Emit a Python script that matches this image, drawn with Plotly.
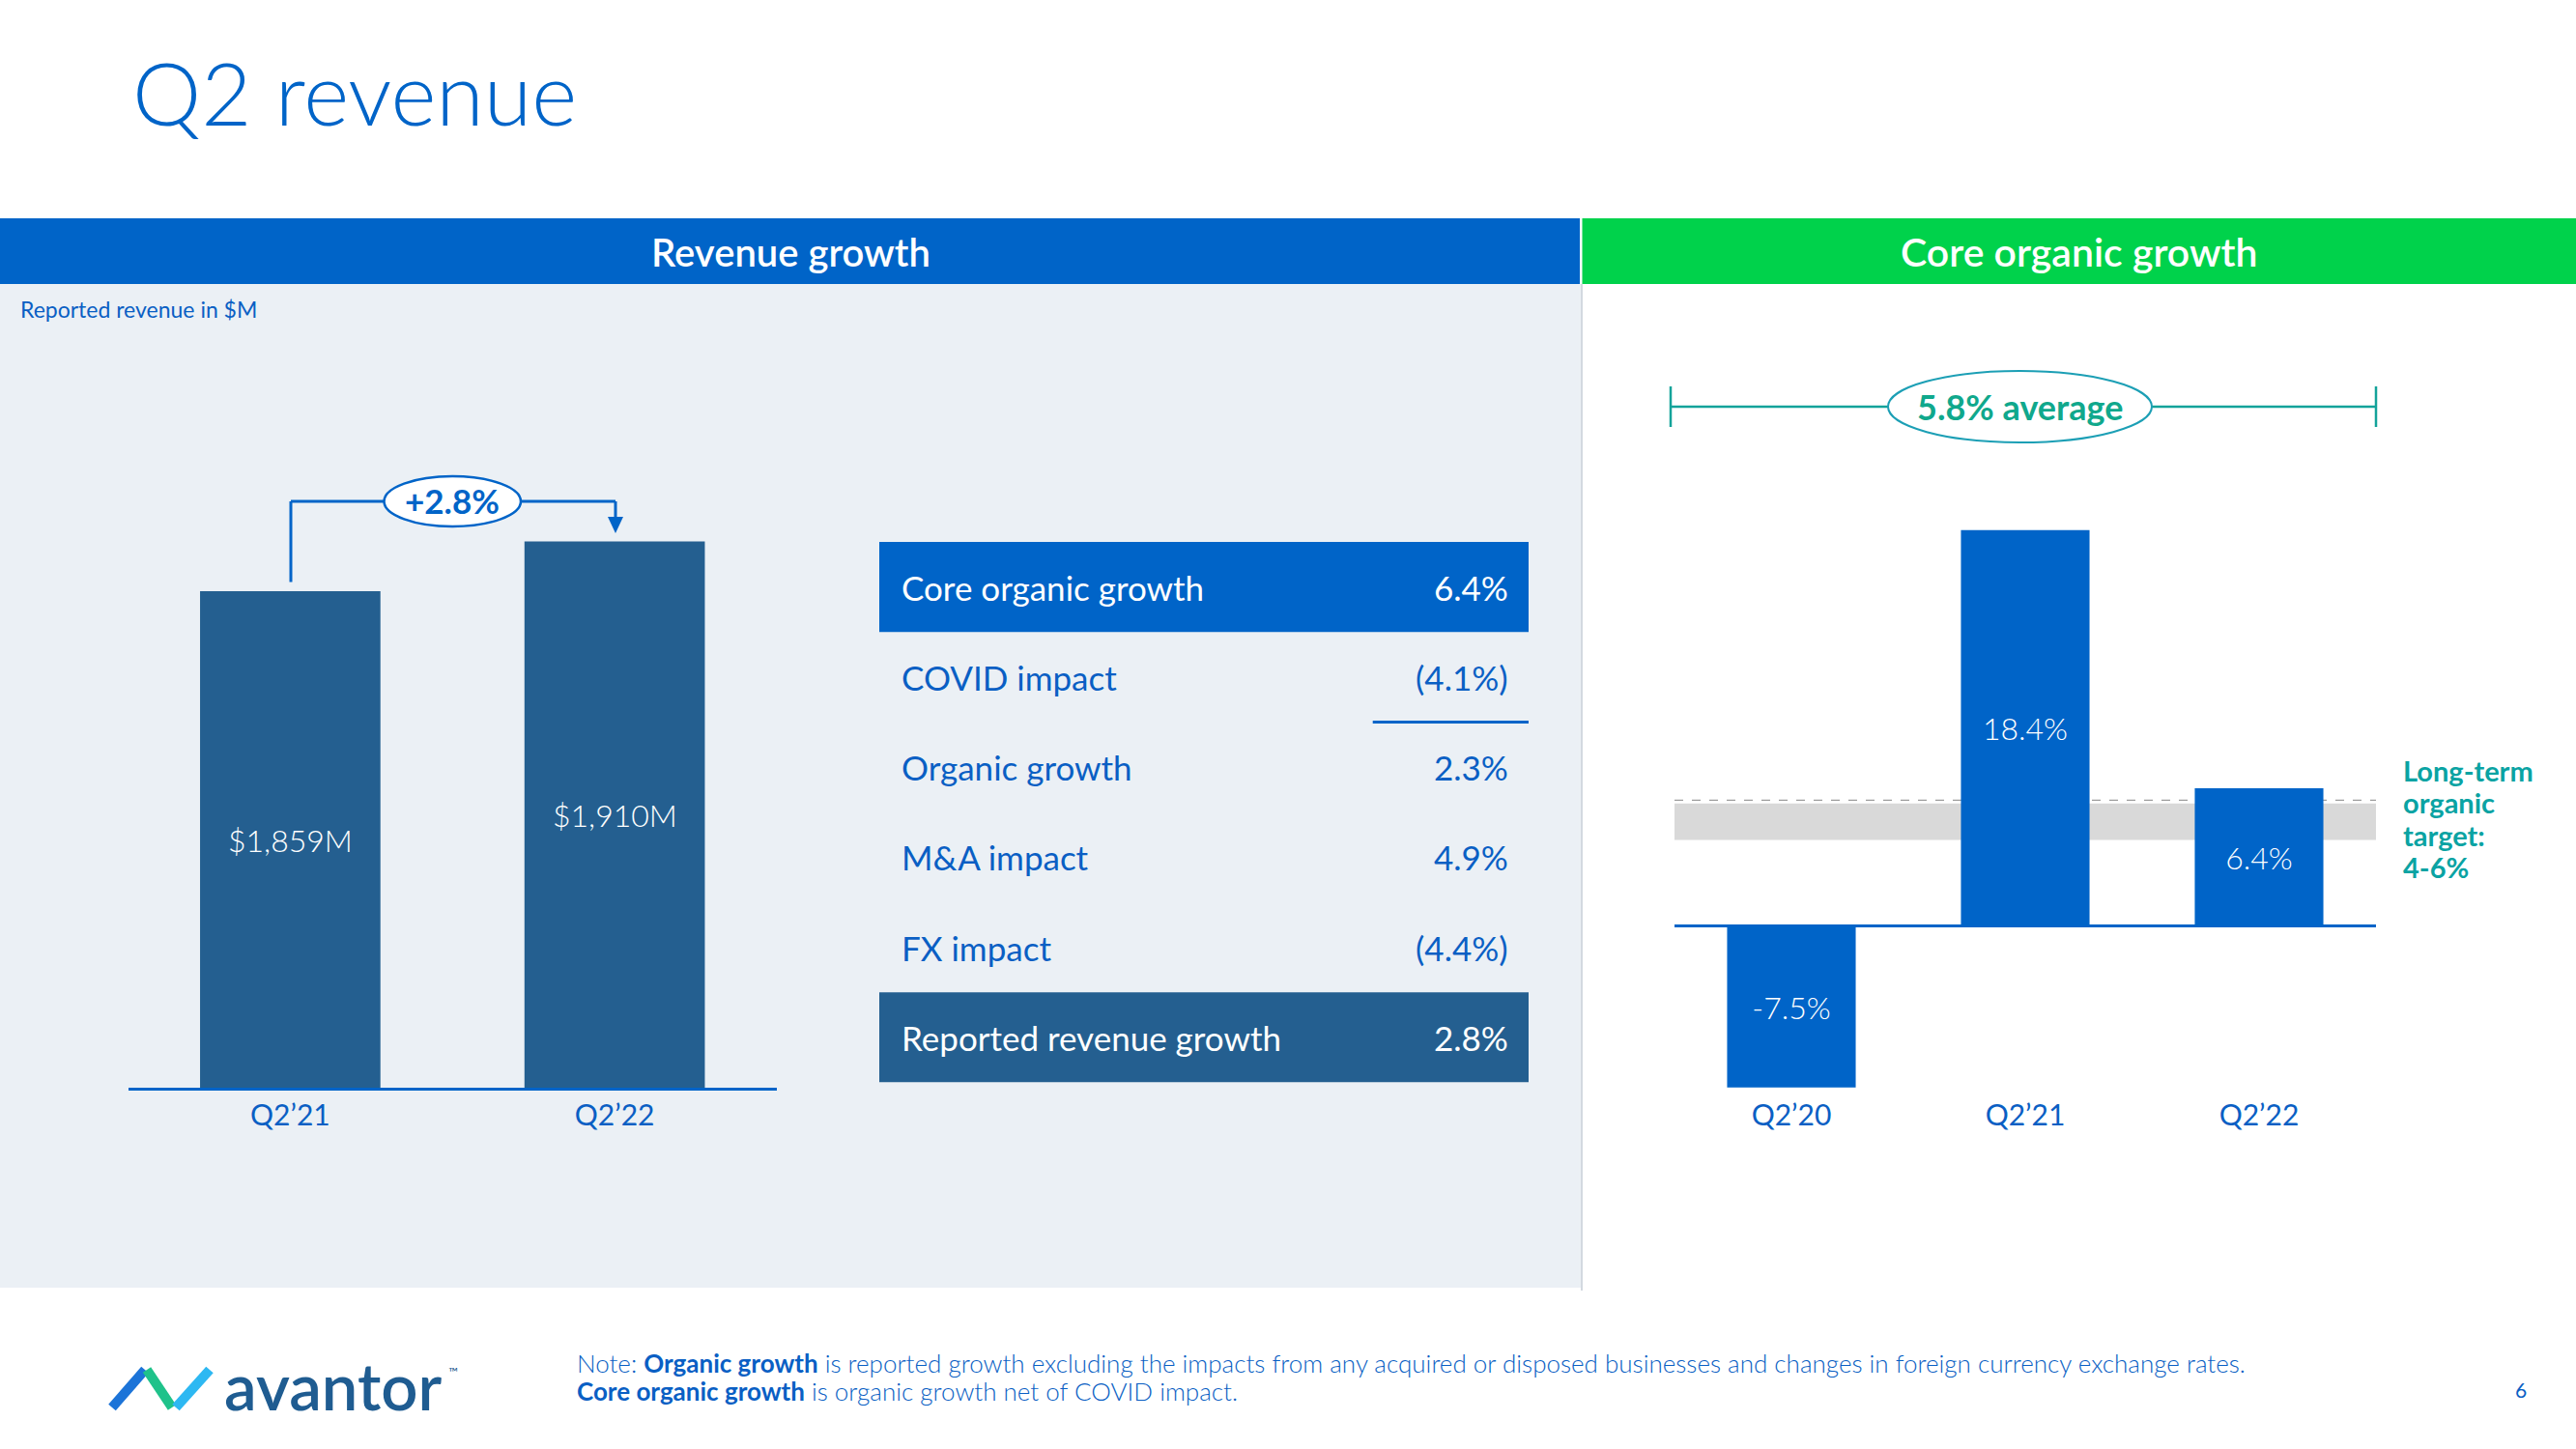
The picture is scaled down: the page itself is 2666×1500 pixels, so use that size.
import plotly.graph_objects as go

W, H = 2666, 1500

# ---------------- data ----------------
rev_quarters = ["Q2’21", "Q2’22"]
rev_values = [1859, 1910]
rev_value_labels = ["$1,859M", "$1,910M"]
rev_growth_label = "+2.8%"

bridge_items = ["Core organic growth", "COVID impact", "Organic growth",
                "M&A impact", "FX impact", "Reported revenue growth"]
bridge_values = ["6.4%", "(4.1%)", "2.3%", "4.9%", "(4.4%)", "2.8%"]

core_quarters = ["Q2’20", "Q2’21", "Q2’22"]
core_values = [-7.5, 18.4, 6.4]
core_average_label = "5.8% average"
target_band = [4.0, 5.7]
target_line = 5.85
target_text = ["Long-term", "organic", "target:", "4-6%"]

# ---------------- style ----------------
FONT = "Lato"
BLUE = "#0064C8"
DARK = "#245F90"
GREEN = "#00D24B"
PANEL = "#EBF0F5"
TEAL = "#13A39A"
TEXTBLUE = "#0A5FC4"


def X(px):
    return px / W


def Y(py):
    return 1 - py / H


fig = go.Figure()

# left: reported revenue bars (axis does not start at zero -> labels as annotations)
fig.add_trace(go.Bar(
    x=rev_quarters, y=rev_values, xaxis="x", yaxis="y",
    marker=dict(color=DARK, line=dict(width=0)), width=0.556,
    textposition="none", hoverinfo="skip", showlegend=False,
))

# right: core organic growth bars
fig.add_trace(go.Bar(
    x=core_quarters, y=core_values, xaxis="x2", yaxis="y2",
    marker=dict(color=BLUE, line=dict(width=0)), width=0.55,
    text=[f"{v}%" for v in core_values], textposition="inside",
    insidetextanchor="middle", constraintext="none",
    textfont=dict(family=FONT, size=32, color="white", weight=300),
    hoverinfo="skip", showlegend=False,
))

# scales
L_SCALE = 1.0098          # px per $M
L_BASE = 1350
R_ZERO_PX, R_SCALE = 958.7, 22.28
R_TOP_PX, R_BOT_PX = 340, 1126.9

tickfont = dict(family=FONT, size=30, color=TEXTBLUE)

fig.update_layout(
    width=W, height=H,
    margin=dict(l=0, r=0, t=0, b=0),
    paper_bgcolor="white", plot_bgcolor="rgba(0,0,0,0)",
    font=dict(family=FONT, color=TEXTBLUE),
    xaxis=dict(domain=[X(132.5), X(804)], anchor="y", type="category",
               range=[-0.5, 1.5], showline=True, linecolor=BLUE, linewidth=2.5,
               ticks="", showgrid=False, zeroline=False, tickfont=tickfont,
               fixedrange=True),
    yaxis=dict(domain=[Y(1126), Y(426)], anchor="x",
               range=[L_BASE, L_BASE + 700 / L_SCALE], visible=False,
               fixedrange=True),
    xaxis2=dict(domain=[X(1733), X(2459)], anchor="y2", type="category",
                range=[-0.5, 2.5], showline=False, ticks="", showgrid=False,
                zeroline=False, tickfont=tickfont, ticklabelstandoff=7,
                fixedrange=True),
    yaxis2=dict(domain=[Y(R_BOT_PX), Y(R_TOP_PX)], anchor="x2",
                range=[-(R_BOT_PX - R_ZERO_PX) / R_SCALE, (R_ZERO_PX - R_TOP_PX) / R_SCALE],
                showgrid=False, showticklabels=False, showline=False, ticks="",
                zeroline=True, zerolinecolor=BLUE, zerolinewidth=3, fixedrange=True),
    xaxis3=dict(domain=[X(910), X(1582)], anchor="y3", range=[0, 1], visible=False,
                fixedrange=True),
    yaxis3=dict(domain=[Y(1120.6), Y(561)], anchor="x3", range=[len(bridge_items), 0],
                visible=False, fixedrange=True),
)

shapes = []
ann = []


def text(x, y, s, size, color, xanchor="center", yanchor="middle", xref="paper", yref="paper",
         weight=None, **kw):
    f = dict(family=FONT, size=size, color=color)
    if weight:
        f["weight"] = weight
    d = dict(xref=xref, yref=yref, x=x, y=y, text=s, showarrow=False,
             xanchor=xanchor, yanchor=yanchor, font=f)
    d.update(kw)
    ann.append(d)


# left bar value labels, centred in the visible part of each bar
for q, v, lab in zip(rev_quarters, rev_values, rev_value_labels):
    text(q, (L_BASE + v) / 2, lab, 32, "white", xref="x", yref="y", weight=300)

# background panels
shapes.append(dict(type="rect", xref="paper", yref="paper", x0=0, x1=X(1636),
                   y0=Y(1333), y1=Y(294), fillcolor=PANEL, line=dict(width=0), layer="below"))
shapes.append(dict(type="rect", xref="paper", yref="paper", x0=0, x1=X(1635),
                   y0=Y(294), y1=Y(226), fillcolor=BLUE, line=dict(width=0), layer="below"))
shapes.append(dict(type="rect", xref="paper", yref="paper", x0=X(1637.5), x1=1,
                   y0=Y(294), y1=Y(226), fillcolor=GREEN, line=dict(width=0), layer="below"))
shapes.append(dict(type="line", xref="paper", yref="paper", x0=X(1637), x1=X(1637),
                   y0=Y(1336), y1=Y(294), line=dict(color="#D3D9E0", width=2), layer="below"))

# target band + dashed line (right chart)
shapes.append(dict(type="rect", xref="x2", yref="y2", x0=-0.5, x1=2.5,
                   y0=target_band[0], y1=target_band[1], fillcolor="#D9D9D9",
                   line=dict(width=0), layer="below"))
shapes.append(dict(type="line", xref="x2", yref="y2", x0=-0.5, x1=2.5,
                   y0=target_line, y1=target_line,
                   line=dict(color="#9C9C9C", width=1.2, dash="dash"), layer="below"))

# table rows
last = len(bridge_items) - 1
for i, fill in [(0, BLUE), (last, DARK)]:
    shapes.append(dict(type="rect", xref="x3", yref="y3", x0=0, x1=1, y0=i, y1=i + 1,
                       fillcolor=fill, line=dict(width=0), layer="below"))
shapes.append(dict(type="line", xref="x3", yref="y3", x0=0.76, x1=1, y0=2, y1=2,
                   line=dict(color=BLUE, width=3)))
for i, (lab, val) in enumerate(zip(bridge_items, bridge_values)):
    col = "white" if i in (0, last) else TEXTBLUE
    text(0, i + 0.5, lab, 35, col, xanchor="left", xref="x3", yref="y3", xshift=21)
    text(1, i + 0.5, val, 35, col, xanchor="right", xref="x3", yref="y3", xshift=-19)

# left growth bracket
lw = dict(color=BLUE, width=3)
shapes += [
    dict(type="line", xref="paper", yref="paper", x0=X(301), x1=X(301), y0=Y(602.5), y1=Y(519), line=lw),
    dict(type="line", xref="paper", yref="paper", x0=X(301), x1=X(637), y0=Y(519), y1=Y(519), line=lw),
    dict(type="line", xref="paper", yref="paper", x0=X(637), x1=X(637), y0=Y(519), y1=Y(538), line=lw),
    dict(type="path", xref="paper", yref="paper",
         path=f"M {X(629)} {Y(535)} L {X(645)} {Y(535)} L {X(637)} {Y(552)} Z",
         fillcolor=BLUE, line=dict(width=0)),
    dict(type="circle", xref="paper", yref="paper", x0=X(397.5), x1=X(539),
         y0=Y(545), y1=Y(493), fillcolor="white", line=dict(color=BLUE, width=2.5)),
]
text(X(468), Y(518), f"<b>{rev_growth_label}</b>", 35, BLUE)

# right average bracket
tw = dict(color=TEAL, width=2.5)
shapes += [
    dict(type="line", xref="paper", yref="paper", x0=X(1729), x1=X(2459), y0=Y(421), y1=Y(421), line=tw),
    dict(type="line", xref="paper", yref="paper", x0=X(1729), x1=X(1729), y0=Y(400), y1=Y(442), line=tw),
    dict(type="line", xref="paper", yref="paper", x0=X(2459), x1=X(2459), y0=Y(400), y1=Y(442), line=tw),
    dict(type="circle", xref="paper", yref="paper", x0=X(1954), x1=X(2227),
         y0=Y(458), y1=Y(384), fillcolor="white", line=dict(color="#1C9FB5", width=2)),
]
text(X(2090), Y(421), f"<b>{core_average_label}</b>", 36, "#10A88C")

# long-term target text, one line each, centred on the middle of the 4-6% target
tmid = 5.0
for k, t in enumerate(target_text):
    text(X(2485), tmid, f"<b>{t}</b>", 29, "#0AA3A3", xanchor="left", yref="y2",
         yshift=(1.5 - k) * 33.4)

# titles / headers
text(X(135), Y(95), "Q2 revenue", 90, BLUE, xanchor="left", weight=300)
text(X(818), Y(261), "Revenue growth", 40, "white", weight=600)
text(X(2152), Y(261), "Core organic growth", 41, "white", weight=600)
text(X(19), Y(320), "Reported revenue in $M", 23, TEXTBLUE, xanchor="left")

# footer note
text(X(595), Y(1411),
     "Note: <b>Organic growth</b> is reported growth excluding the impacts from any "
     "acquired or disposed businesses and changes in foreign currency exchange rates.",
     26, TEXTBLUE, xanchor="left", weight=300)
text(X(595), Y(1440), "<b>Core organic growth</b> is organic growth net of COVID impact.",
     26, TEXTBLUE, xanchor="left", weight=300)
text(X(2609), Y(1438), "6", 21, TEXTBLUE)

# logo
shapes += [
    dict(type="line", xref="paper", yref="paper", x0=X(116), x1=X(150), y0=Y(1457), y1=Y(1418),
         line=dict(color="#1C74D8", width=10)),
    dict(type="line", xref="paper", yref="paper", x0=X(152), x1=X(178), y0=Y(1418), y1=Y(1457),
         line=dict(color="#1FC28A", width=10)),
    dict(type="line", xref="paper", yref="paper", x0=X(182), x1=X(217), y0=Y(1457), y1=Y(1418),
         line=dict(color="#2DB8F2", width=10)),
]
text(X(230), Y(1434), "avantor", 67, "#1F5C91", xanchor="left", weight=600)
text(X(462), Y(1420), "™", 13, "#1F5C91", xanchor="left")

fig.update_layout(shapes=shapes, annotations=ann)
fig.write_html("out.html", config={"displayModeBar": False},
               post_script="document.body.style.margin='0';document.body.style.overflow='hidden';")
